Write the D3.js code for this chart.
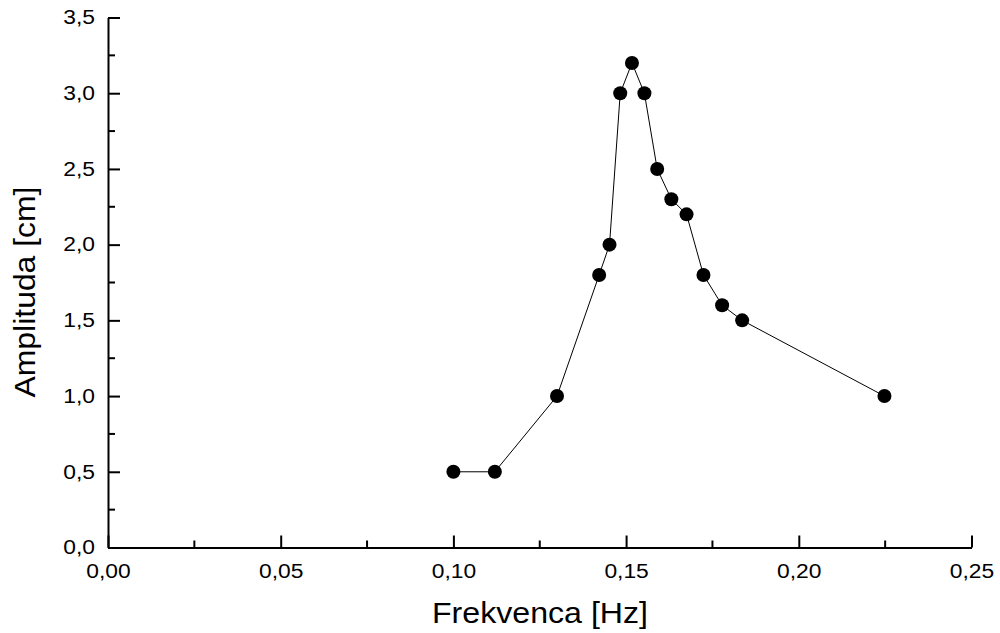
<!DOCTYPE html>
<html lang="sl">
<head>
<meta charset="UTF-8">
<style>
  *{margin:0;padding:0}
  body{background:#fff;width:1000px;height:633px;overflow:hidden;font-family:'Liberation Sans',Arial,sans-serif}
  .tick text{font-family:'Liberation Sans',Arial,sans-serif;font-size:19.5px;fill:#000}
  .axis-title{font-family:'Liberation Sans',Arial,sans-serif;font-size:29px;fill:#000}
</style>
<script src="https://d3js.org/d3.v7.min.js"></script>
</head>
<body>
<div id="chart"></div>
<script>
  /* ---------- DATA ---------- */
  const frekvenca = [0.100, 0.112, 0.130, 0.1422, 0.1452, 0.1483, 0.1517, 0.1553, 0.159, 0.1631, 0.1675, 0.1724, 0.1778, 0.1836, 0.2248];
  const amplituda = [0.5, 0.5, 1.0, 1.8, 2.0, 3.0, 3.2, 3.0, 2.5, 2.3, 2.2, 1.8, 1.6, 1.5, 1.0];
  const xTicks = [0, 0.05, 0.10, 0.15, 0.20, 0.25];
  const yTicks = [0, 0.5, 1.0, 1.5, 2.0, 2.5, 3.0, 3.5];

  const points = frekvenca.map((f,i)=>({x:f,y:amplituda[i]}));

  /* ---------- LAYOUT ---------- */
  const W=1000,H=633;
  const mLeft=108,mRight=971.5,mTop=17.5,mBottom=547.5;
  const stretch=1.17; // labels in the original look a bit wide
  const svg=d3.select('#chart').append('svg').attr('width',W).attr('height',H);

  const x=d3.scaleLinear().domain([0,0.25]).range([mLeft,mRight]);
  const y=d3.scaleLinear().domain([0,3.5]).range([mBottom,mTop]);
  const fmt=(d,n)=>d.toFixed(n).replace('.',',');

  /* ---------- MINOR TICKS ---------- */
  const xMinor=d3.range(0,11).map(i=>i*0.025).filter((d,i)=>i%2===1);
  const yMinor=d3.range(0,14).map(i=>i*0.25).filter((d,i)=>i%2===1);
  svg.append('g').selectAll('line').data(xMinor).join('line')
     .attr('x1',d=>x(d)).attr('x2',d=>x(d)).attr('y1',mBottom).attr('y2',mBottom-7)
     .attr('stroke','#000').attr('stroke-width',2);
  svg.append('g').selectAll('line').data(yMinor).join('line')
     .attr('y1',d=>y(d)).attr('y2',d=>y(d)).attr('x1',mLeft).attr('x2',mLeft+7)
     .attr('stroke','#000').attr('stroke-width',2);

  /* ---------- AXES ---------- */
  const xAxis=svg.append('g').attr('transform',`translate(0,${mBottom})`)
     .call(d3.axisBottom(x).tickValues(xTicks).tickFormat(d=>fmt(d,2)).tickSizeInner(-12).tickSizeOuter(0).tickPadding(17));
  const yAxis=svg.append('g').attr('transform',`translate(${mLeft},0)`)
     .call(d3.axisLeft(y).tickValues(yTicks).tickFormat(d=>fmt(d,1)).tickSizeInner(-12).tickSizeOuter(0).tickPadding(13));
  [xAxis,yAxis].forEach(a=>{
    a.select('.domain').attr('stroke','#000').attr('stroke-width',2);
    a.selectAll('.tick line').attr('stroke','#000').attr('stroke-width',2);
  });
  xAxis.selectAll('.tick text').attr('transform',`scale(${stretch},1)`);
  yAxis.selectAll('.tick text').attr('x',-13/stretch).attr('transform',`scale(${stretch},1)`);

  /* ---------- LINE + MARKERS ---------- */
  const line=d3.line().x(d=>x(d.x)).y(d=>y(d.y));
  svg.append('path').datum(points).attr('d',line)
     .attr('fill','none').attr('stroke','#000').attr('stroke-width',1);
  svg.append('g').selectAll('circle').data(points).join('circle')
     .attr('cx',d=>x(d.x)).attr('cy',d=>y(d.y)).attr('r',7).attr('fill','#000');

  /* ---------- TITLES ---------- */
  svg.append('text').attr('class','axis-title').attr('x',540).attr('y',623)
     .attr('text-anchor','middle').attr('textLength',216).attr('lengthAdjust','spacingAndGlyphs')
     .text('Frekvenca [Hz]');
  svg.append('text').attr('class','axis-title')
     .attr('transform',`translate(35,292) rotate(-90)`)
     .attr('text-anchor','middle').attr('textLength',211).attr('lengthAdjust','spacingAndGlyphs')
     .text('Amplituda [cm]');
</script>
</body>
</html>
